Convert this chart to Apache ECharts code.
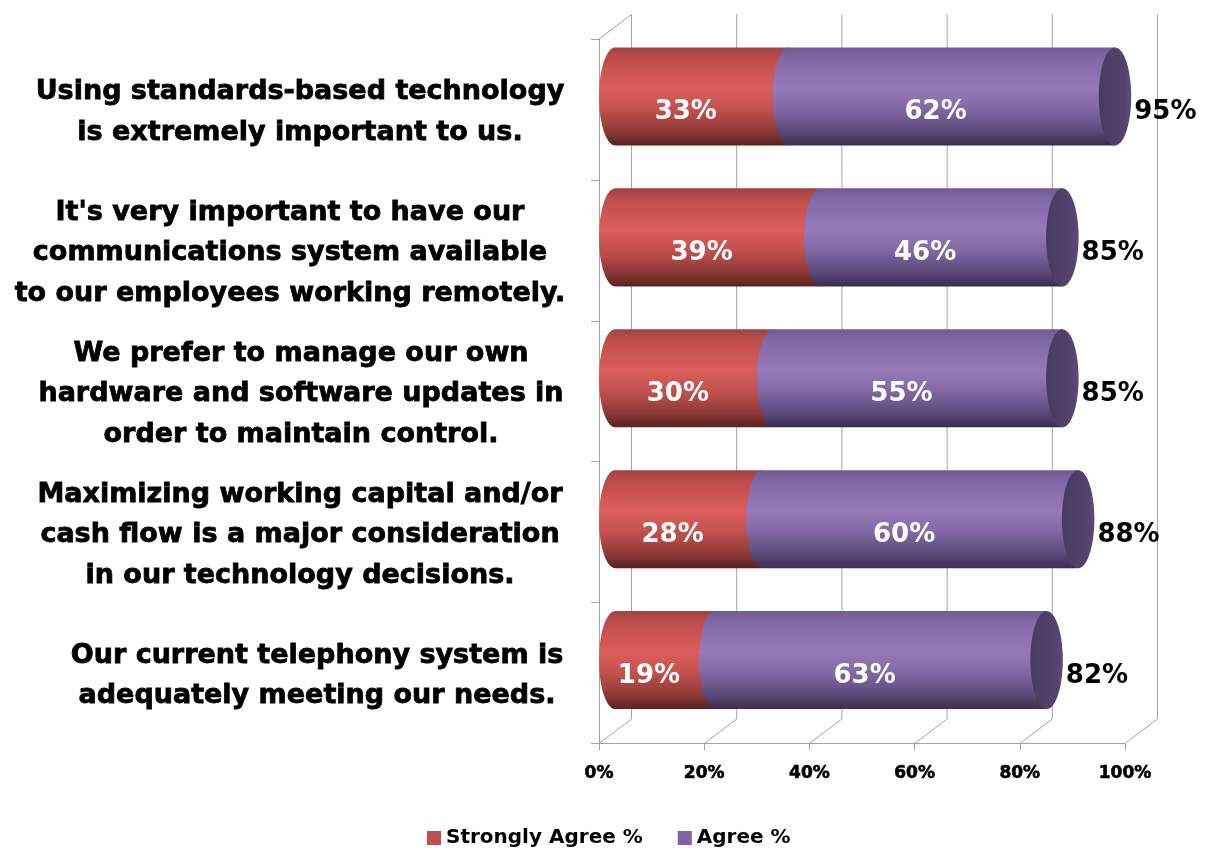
<!DOCTYPE html>
<html>
<head>
<meta charset="utf-8">
<style>
  html, body { margin: 0; padding: 0; background: #ffffff; }
  #chart { width: 1205px; height: 848px; }
</style>
<script src="https://cdn.jsdelivr.net/npm/echarts@6/dist/echarts.min.js"></script>
</head>
<body>
<div id="chart"></div>
<script>
// Survey statements, top to bottom
const categories = [
  'Using standards-based technology\nis extremely important to us.',
  "It's very important to have our\ncommunications system available\nto our employees working remotely.",
  'We prefer to manage our own\nhardware and software updates in\norder to maintain control.',
  'Maximizing working capital and/or\ncash flow is a major consideration\nin our technology decisions.',
  'Our current telephony system is\nadequately meeting our needs.'
];
const stronglyAgree = [33, 39, 30, 28, 19];
const agree = [62, 46, 55, 60, 63];
const xTicks = [0, 20, 40, 60, 80, 100];

const FONT = 'DejaVu Sans';
const GRID_COLOR = '#a3a3a3';
// depth of the 3D box (back wall offset)
const DEPTH_X = 32.5;
const DEPTH_Y = -24.5;

const RED_STOPS = [
  { offset: 0, color: '#a04341' },
  { offset: 0.12, color: '#bf4e4b' },
  { offset: 0.42, color: '#db5e5b' },
  { offset: 0.62, color: '#c4524f' },
  { offset: 0.86, color: '#8c3937' },
  { offset: 1, color: '#5a2120' }
];
const PURPLE_STOPS = [
  { offset: 0, color: '#6f5a92' },
  { offset: 0.12, color: '#8269a8' },
  { offset: 0.42, color: '#9779b8' },
  { offset: 0.62, color: '#8469a6' },
  { offset: 0.86, color: '#5b4878' },
  { offset: 1, color: '#3a2c4e' }
];

function vGrad(stops) {
  return new echarts.graphic.LinearGradient(0, 0, 0, 1, stops);
}

function ellipsePoints(cx, cy, rx, ry, t0, t1, n) {
  const pts = [];
  for (let k = 0; k <= n; k++) {
    const t = t0 + (t1 - t0) * k / n;
    pts.push([cx + rx * Math.cos(t), cy + ry * Math.sin(t)]);
  }
  return pts;
}

// Cylinder segment: curved left end, straight body up to the next segment
function segmentPoints(xs, xe, cy, rx, ry) {
  const pts = [[xs, cy - ry], [xe, cy - ry], [xe, cy + ry], [xs, cy + ry]];
  return pts.concat(ellipsePoints(xs, cy, rx, ry, Math.PI / 2, Math.PI * 1.5, 40));
}

function cylGeom(api, catIndex) {
  const band = api.size([0, 1])[1];
  const center = api.coord([0, catIndex])[1];
  return {
    band: band,
    center: center,
    cy: center - band * 0.092,
    ry: band * 0.348,
    rx: DEPTH_X / 2,
    ox: DEPTH_X / 2
  };
}

const labelFont = { fontFamily: FONT, fontWeight: 'bold', fontSize: 26 };

function renderGrid(params, api) {
  const v = api.value(0);
  const x = api.coord([v, 0])[0];
  const cs = params.coordSys;
  const top = cs.y, bottom = cs.y + cs.height;
  const ls = { stroke: GRID_COLOR, lineWidth: 1 };
  const children = [
    { type: 'line', shape: { x1: x + DEPTH_X, y1: top + DEPTH_Y, x2: x + DEPTH_X, y2: bottom + DEPTH_Y }, style: ls },
    { type: 'line', shape: { x1: x, y1: bottom, x2: x + DEPTH_X, y2: bottom + DEPTH_Y }, style: ls }
  ];
  if (v === 0) {
    children.push({ type: 'line', shape: { x1: x, y1: top, x2: x + DEPTH_X, y2: top + DEPTH_Y }, style: ls });
  }
  return { type: 'group', children: children };
}

function renderStrong(params, api) {
  const i = api.value(1);
  const end = api.value(0);
  const g = cylGeom(api, i);
  const x0 = api.coord([0, i])[0];
  const x1 = api.coord([end, i])[0];
  return {
    type: 'group',
    children: [
      {
        type: 'polygon',
        shape: { points: segmentPoints(x0 + g.ox, x1 + g.ox, g.cy, g.rx, g.ry) },
        style: { fill: vGrad(RED_STOPS) }
      },
      {
        type: 'text',
        z2: 10,
        x: (x0 + x1) / 2,
        y: g.center + 3,
        style: Object.assign({ text: end + '%', fill: '#ffffff', align: 'center', verticalAlign: 'middle' }, labelFont)
      }
    ]
  };
}

function renderAgree(params, api) {
  const i = api.value(1);
  const total = api.value(0);
  const start = api.value(2);
  const g = cylGeom(api, i);
  const x1 = api.coord([start, i])[0];
  const x2 = api.coord([total, i])[0];
  return {
    type: 'group',
    children: [
      {
        type: 'polygon',
        shape: { points: segmentPoints(x1 + g.ox, x2 + g.ox, g.cy, g.rx, g.ry) },
        style: { fill: vGrad(PURPLE_STOPS) }
      },
      {
        type: 'polygon',
        shape: { points: ellipsePoints(x2 + g.ox, g.cy, g.rx, g.ry, 0, Math.PI * 2, 72) },
        style: {
          fill: new echarts.graphic.LinearGradient(0, 0, 1, 0, [
            { offset: 0, color: '#4a3a61' },
            { offset: 0.8, color: '#54436e' },
            { offset: 1, color: '#5e4b7a' }
          ])
        }
      },
      {
        type: 'text',
        z2: 10,
        x: (x1 + x2) / 2,
        y: g.center + 3,
        style: Object.assign({ text: (total - start) + '%', fill: '#ffffff', align: 'center', verticalAlign: 'middle' }, labelFont)
      },
      {
        type: 'text',
        z2: 10,
        x: x2 + DEPTH_X + 3,
        y: g.center + 3,
        style: Object.assign({ text: total + '%', fill: '#000000', align: 'left', verticalAlign: 'middle' }, labelFont)
      }
    ]
  };
}

// per-statement horizontal nudges of the text block
const labelShift = [0, -10, 1, 0, 17];

const catTextStyle = {
  color: '#000000',
  fontFamily: FONT,
  fontWeight: 'bold',
  fontSize: 27,
  lineHeight: 40.5,
  textBorderColor: '#000000',
  textBorderWidth: 0.8
};

const chart = echarts.init(document.getElementById('chart'), null, { renderer: 'canvas' });
chart.setOption({
  animation: false,
  backgroundColor: '#ffffff',
  grid: { left: 599, right: 80, top: 39, bottom: 104.5, containLabel: false, outerBoundsMode: 'none' },
  legend: {
    left: 422,
    top: 823,
    itemWidth: 14,
    itemHeight: 14,
    itemGap: 35,
    icon: 'rect',
    textStyle: { fontFamily: FONT, fontWeight: 'bold', fontSize: 20, color: '#000000' },
    data: ['Strongly Agree %', 'Agree %']
  },
  xAxis: {
    type: 'value',
    min: 0,
    max: 100,
    interval: 20,
    axisLine: { show: true, lineStyle: { color: GRID_COLOR, width: 1 } },
    axisTick: { show: true, length: 7, lineStyle: { color: GRID_COLOR } },
    splitLine: { show: false },
    axisLabel: {
      formatter: '{value}%',
      margin: 22,
      color: '#000000',
      fontFamily: FONT,
      fontWeight: 'bold',
      fontSize: 17,
      textBorderColor: '#000000',
      textBorderWidth: 0.6
    }
  },
  yAxis: {
    type: 'category',
    inverse: true,
    data: categories.map((c, i) => {
      const s = labelShift[i];
      return {
        value: c,
        textStyle: {
          align: 'center',
          padding: [0, s < 0 ? -2 * s : 0, 0, s > 0 ? 2 * s : 0]
        }
      };
    }),
    axisLine: { show: true, lineStyle: { color: GRID_COLOR, width: 1 } },
    axisTick: { show: true, length: 8, lineStyle: { color: GRID_COLOR } },
    splitLine: { show: false },
    axisLabel: Object.assign({
      margin: 299,
      align: 'center',
      // a thin spacer line on top nudges each text block slightly downward
      formatter: v => '{gap| }\n' + v.split('\n').map(l => '{t|' + l + '}').join('\n'),
      rich: {
        gap: { fontSize: 6, lineHeight: 6 },
        t: Object.assign({ align: 'center' }, catTextStyle)
      }
    }, catTextStyle)
  },
  series: [
    {
      type: 'custom',
      name: 'grid3d',
      silent: true,
      renderItem: renderGrid,
      encode: { x: 0, y: 1 },
      data: xTicks.map(v => [v, 0]),
      z: 1
    },
    {
      type: 'custom',
      name: 'Strongly Agree %',
      silent: true,
      itemStyle: { color: '#c0504d' },
      renderItem: renderStrong,
      encode: { x: 0, y: 1 },
      data: stronglyAgree.map((v, i) => [v, i]),
      z: 2
    },
    {
      type: 'custom',
      name: 'Agree %',
      silent: true,
      itemStyle: { color: '#8064a2' },
      renderItem: renderAgree,
      encode: { x: 0, y: 1 },
      data: agree.map((v, i) => [stronglyAgree[i] + v, i, stronglyAgree[i]]),
      z: 3
    }
  ]
});
</script>
</body>
</html>
